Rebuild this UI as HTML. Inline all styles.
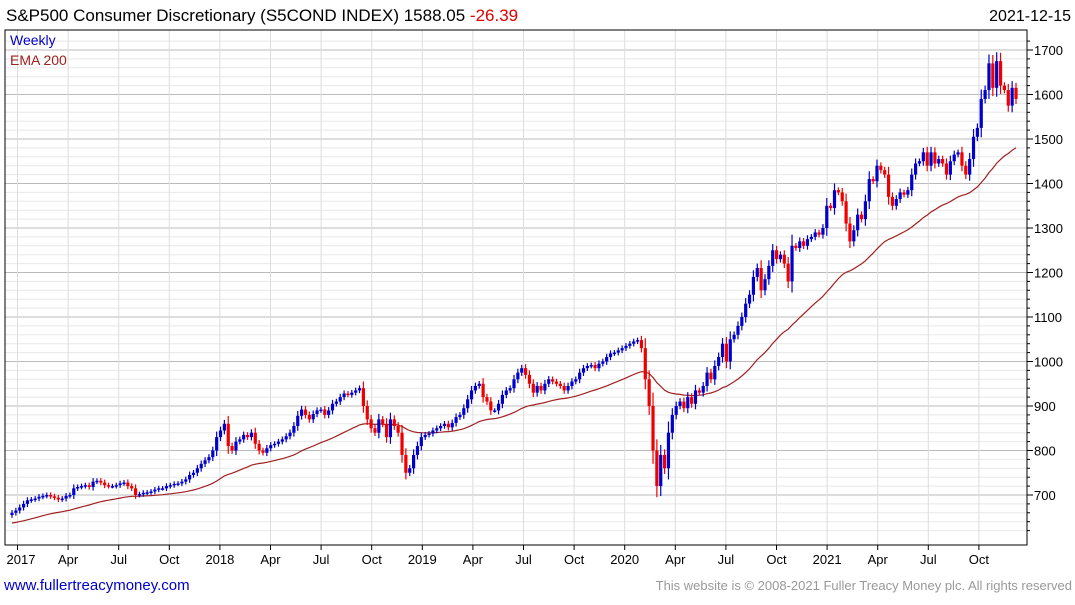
<!DOCTYPE html>
<html><head><meta charset="utf-8"><style>
body{margin:0;background:#fff;font-family:"Liberation Sans",sans-serif;}
</style></head><body>
<svg id="c" width="1075" height="600" xmlns="http://www.w3.org/2000/svg">
<text x="6" y="21" font-size="17" fill="#000">S&amp;P500 Consumer Discretionary (S5COND INDEX) 1588.05 <tspan fill="#e00000">-26.39</tspan></text>
<text x="1071" y="21" font-size="16" text-anchor="end" fill="#000">2021-12-15</text>
<g id="grid"></g>
<g id="ema"></g>
<g id="candles"></g>
<rect x="5" y="30" width="1022" height="515" fill="none" stroke="#000" stroke-width="1"/>
<text x="10" y="45" font-size="14" fill="#0000cc">Weekly</text>
<text x="10" y="65" font-size="14" fill="#a02020">EMA 200</text>
<text x="4" y="590" font-size="15" fill="#0000cc">www.fullertreacymoney.com</text>
<text x="1072" y="590" font-size="13" fill="#999" text-anchor="end">This website is © 2008-2021 Fuller Treacy Money plc. All rights reserved</text>
</svg>
<script>
const closes = [
660,665,672,680, 688,690,692,696, 698,700,697,694,690, 692,698,700,715, 718,720,722,718,
730,732,728,722,720, 720,722,726,728, 720,715,700,702, 705,706,708,712,715, 715,720,722,725,
726,730,735,745, 750,760,770,778,785,
800,830,845,860, 810,800,820,825, 835,830,840,815,800, 795,805,812,815, 820,825,832,840,
855,878,892,880,870, 882,890,892,880, 890,905,910,920,928, 925,930,935,940, 900,870,850,840,
870,860,830,870, 855,840,790,750,760,
790,810,830,835, 838,845,850,855, 860,852,862,875,880, 895,915,935,945, 950,920,910,890,890,
905,925,935,940, 960,975,985,970, 950,930,945,935,950, 960,955,950,945, 935,945,955,960,
975,985,990,992,985, 995,1000,1010,1018,
1020,1025,1030,1035,1040, 1045,1048,1030,960, 900,800,720,790,760, 840,880,900,910,
895,920,905,935,930, 945,975,960,990, 1010,1040,1000,1050,1060, 1080,1100,1130,1150,
1190,1210,1160,1185, 1215,1250,1230,1240,1220, 1180,1260,1255,1270, 1260,1275,1280,1290,1285,
1300,1350,1345,1385, 1380,1360,1310,1270, 1295,1330,1320,1360,1410, 1405,1440,1430,1420,
1370,1350,1365,1380,1375, 1385,1420,1445,1450, 1470,1440,1470,1445,1455, 1445,1420,1450,1465,
1470,1440,1420,1455, 1505,1525,1590,1610,1670, 1615,1675,1620,1610, 1575,1615,1590
];
const startOpen = 655;
const emaSeed = 636;
const yTicks = [700,800,900,1000,1100,1200,1300,1400,1500,1600,1700];
const xTickLabels = ["2017","Apr","Jul","Oct","2018","Apr","Jul","Oct","2019","Apr","Jul","Oct","2020","Apr","Jul","Oct","2021","Apr","Jul","Oct"];
const NS="http://www.w3.org/2000/svg";
const L=5,R=1027,T=30,B=545;
function y(v){return 50+(1700-v)*0.445;}
const x0=12,x1=1016;
function x(i){return x0+(x1-x0)*i/(closes.length-1);}
function qx(q){return 17.5+q*50.6;}
function mk(tag,attrs,parent){const e=document.createElementNS(NS,tag);for(const k in attrs)e.setAttribute(k,attrs[k]);parent.appendChild(e);return e;}
const svg=document.getElementById('c');
const grid=document.getElementById('grid');
for(let v=620;v<=1720;v+=20){const yy=y(v);if(yy<T||yy>B)continue;
 const major=v%100===0;
 const g=mk('line',{x1:L,x2:R,y1:yy,y2:yy,stroke:major?'#bbb':'#e8e8e8','stroke-width':1},grid);
 
 
 const t=mk('line',{x1:R,x2:R+(major?6:3),y1:yy,y2:yy,stroke:'#000'},svg);
 
 
}
yTicks.forEach(v=>{const t=mk('text',{x:1034,y:y(v)+5,'font-size':13,fill:'#000'},svg);t.textContent=v;
 
 });
xTickLabels.forEach((lab,q)=>{const xx=qx(q);
 const g=mk('line',{x1:xx,x2:xx,y1:T,y2:B,stroke:'#ddd','stroke-width':1},grid);
 
 
 const tk=mk('line',{x1:xx,x2:xx,y1:B,y2:B+5,stroke:'#000'},svg);
 
 
 const lx=Math.max(xx,21);
 const t=mk('text',{x:lx,y:564,'font-size':13,'text-anchor':'middle',fill:'#000'},svg);t.textContent=lab;
 
 });
let e=emaSeed;const a=2/41;let pts=[];
closes.forEach((c,i)=>{e=e+a*(c-e);pts.push(x(i).toFixed(1)+','+y(e).toFixed(1));});
const pl=mk('polyline',{points:pts.join(' '),fill:'none',stroke:'#a02020','stroke-width':1.2},document.getElementById('ema'));


const cg=document.getElementById('candles');
closes.forEach((c,i)=>{const o=i?closes[i-1]:startOpen;const up=c>=o;const col=up?'#0000cc':'#ee0000';
 const d=Math.abs(c-o);const hi=Math.max(o,c)+d*0.25+5,lo=Math.min(o,c)-d*0.25-5;
 const xx=x(i);
 const w=mk('line',{x1:xx,x2:xx,y1:y(hi),y2:y(lo),stroke:col,'stroke-width':1.2},cg);
 
 
 const top=y(Math.max(o,c));const h=Math.max(1.5,y(Math.min(o,c))-top);
 const r=mk('rect',{x:xx-1.6,y:top,width:3.2,height:h,fill:col},cg);
 
 
});
</script>
</body></html>
